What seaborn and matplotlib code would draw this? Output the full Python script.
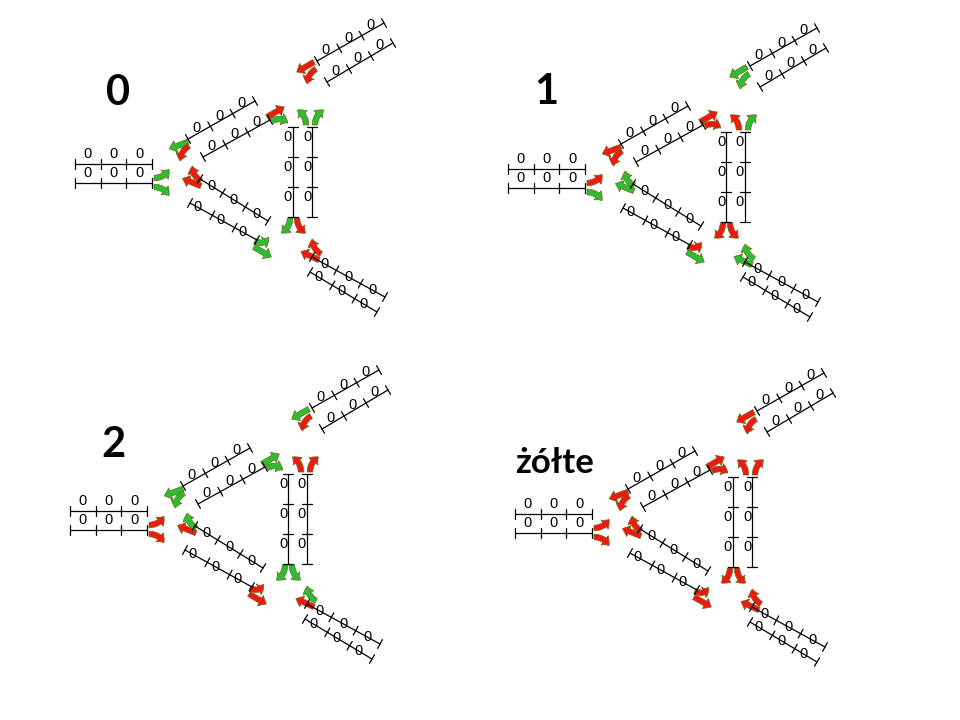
import numpy as np
import matplotlib
matplotlib.use("Agg")
import matplotlib.pyplot as plt
import seaborn as sns
from matplotlib.patches import FancyArrowPatch, ArrowStyle
from matplotlib.path import Path

sns.set_style("white")
plt.rcParams['font.family'] = ['Lato', 'DejaVu Sans']
plt.rcParams['text.color'] = 'black'

# phases (one panel each)
phase_names = ["0", "1", "2", "żółte"]
name_xy = [(118, 93), (546, 92), (113, 445), (555, 463)]
name_size = [30, 30, 30, 25]
panel_shift = [(0, 0), (433, 5), (-5, 347), (440, 350)]

# lanes of the junction, drawn in panel-0 pixel coords
lane_start = [(75, 164), (75, 183), (317, 61), (327, 82), (188, 139), (203, 157),
              (200, 179), (190, 203), (293, 127), (312, 127), (312, 257), (310, 272)]
lane_end = [(152, 164), (152, 183), (384, 23), (393, 43), (255, 101), (270, 120),
            (268, 221), (257, 240), (293, 217), (312, 217), (385, 297), (377, 312)]
lane_label_off = [10, 10, 5, 5, 5, 5, 0, 0, -5, -5, 0, 0]
lane_label_frac = [0.5, 0.5, 0.5, 0.5, 0.5, 0.5, 0.5, 0.35, 0.33, 0.33, 0.5, 0.4]
lane_counts = [[0, 0, 0] for _ in lane_start]

# signal arrows: tail, heading (deg), turn (deg, 0 = straight)
arrow_tail = [(314, 62), (316, 69), (267, 117), (272, 121), (306, 125), (315, 125),
              (188, 142), (189, 146), (201, 186), (201, 181), (154, 178), (154, 187),
              (255, 241), (254, 247), (290, 218), (297, 218), (321, 254), (319, 260)]
arrow_heading = [210, 210, 30, 30, 90, 90, 200, 210, 158, 150, 0, 0,
                 -30, -30, 270, 270, 150, 155]
arrow_turn = [0, 60, 0, -75, 60, -60, 0, 60, 0, -60, 60, -60,
              90, 0, -60, 60, -60, 0]
phase_signals = ["RRRGGGGRRRGGGGGRRR",
                 "GGRRRGRRGGRGRGRRGG",
                 "GRGGRRGGRGRRRRGGGR",
                 "RRRRRRRRRRRRRRRRRR"]
signal_color = {"G": "#2EBD2E", "R": "#EE1A10"}


def unit(deg):
    r = np.radians(deg)
    return np.array([np.cos(r), -np.sin(r)])


fig = plt.figure(figsize=(9.6, 7.2), dpi=100)
ax = fig.add_axes([0, 0, 1, 1])
ax.set_xlim(0, 960)
ax.set_ylim(720, 0)
ax.axis('off')

style = ArrowStyle.Simple(head_length=5, head_width=8.5, tail_width=4.0)

for k, name in enumerate(phase_names):
    sx, sy = panel_shift[k]
    shift = np.array([sx, sy], dtype=float)

    ax.text(*name_xy[k], name, fontsize=name_size[k], fontweight='bold',
            color='black', ha='center', va='center')

    # lanes with ticks and queue counts
    for (p0, p1, off, frac, counts) in zip(lane_start, lane_end, lane_label_off,
                                           lane_label_frac, lane_counts):
        a = np.array(p0, dtype=float) + shift
        b = np.array(p1, dtype=float) + shift
        d = (b - a) / np.linalg.norm(b - a)
        n = np.array([d[1], -d[0]])
        ax.plot([a[0], b[0]], [a[1], b[1]], color='black', lw=0.9)
        nseg = len(counts)
        for i in range(nseg + 1):
            t = a + (b - a) * i / nseg
            ax.plot([t[0] - 5 * n[0], t[0] + 5 * n[0]],
                    [t[1] - 5 * n[1], t[1] + 5 * n[1]], color='black', lw=0.9)
        for i, c in enumerate(counts):
            p = a + (b - a) * (i + frac) / nseg + off * n
            ax.text(p[0], p[1], str(c), fontsize=10.5, family='Liberation Sans',
                    color='black', ha='center', va='center')

    # signal arrows
    for (tail, h, turn, s) in zip(arrow_tail, arrow_heading, arrow_turn, phase_signals[k]):
        p0 = np.array(tail, dtype=float) + shift
        if turn == 0:
            p1 = p0 + 20 * unit(h)
            pc = (p0 + p1) / 2
        else:
            pc = p0 + 10 * unit(h)
            p1 = pc + 10 * unit(h + turn)
        path = Path([p0, pc, p1], [Path.MOVETO, Path.CURVE3, Path.CURVE3])
        ax.add_patch(FancyArrowPatch(path=path, arrowstyle=style, mutation_scale=1,
                                     fc=signal_color[s], ec='#6B6A1E', lw=0.5))

fig.savefig("out.png", dpi=100)
